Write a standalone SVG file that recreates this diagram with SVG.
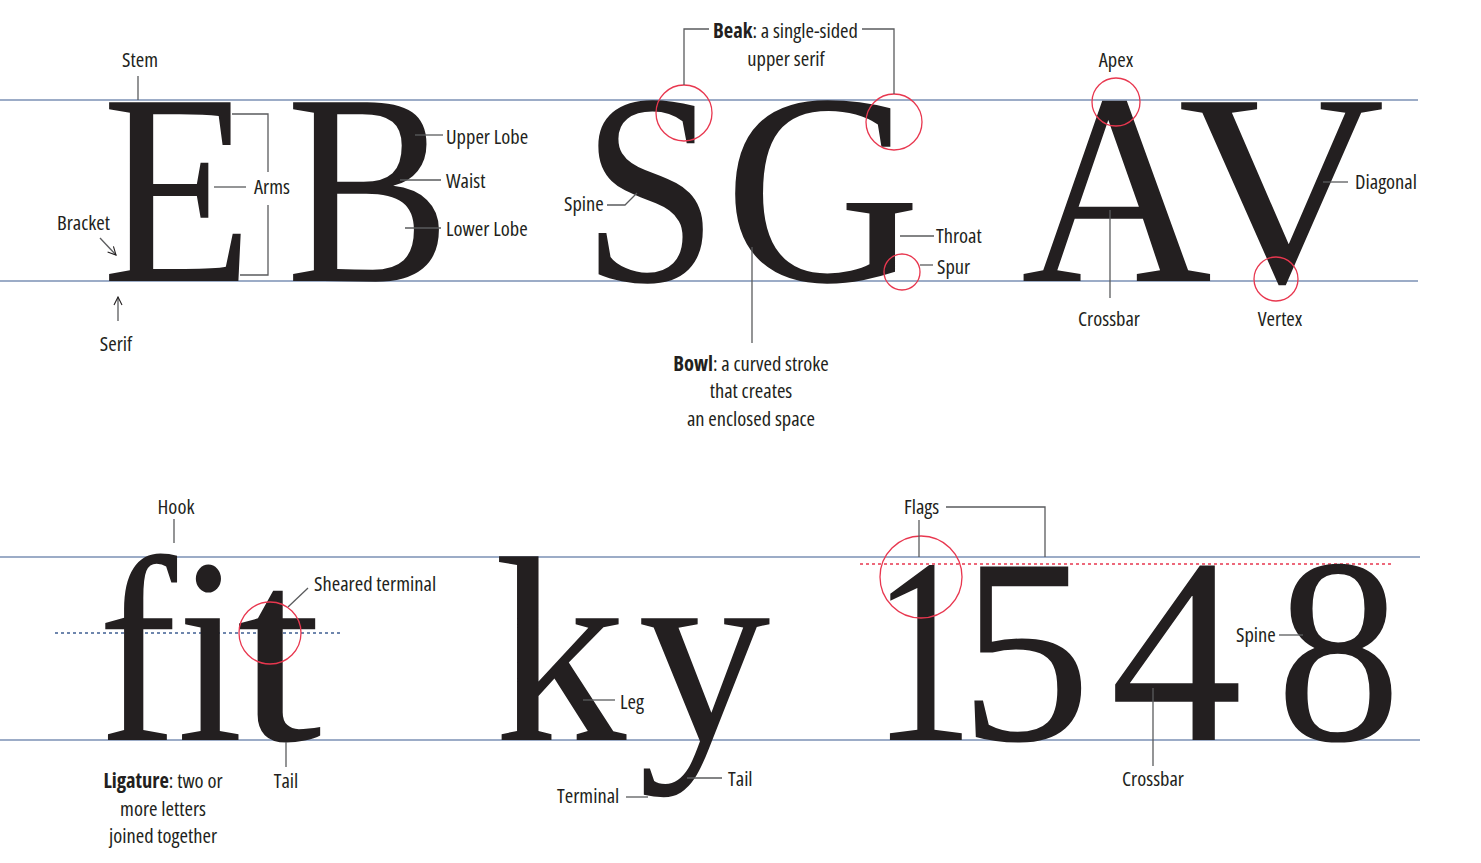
<svg xmlns="http://www.w3.org/2000/svg" width="1481" height="863" viewBox="0 0 1481 863">
<defs>
<style>
.guide{stroke:#7b91b4;stroke-width:1.4;fill:none}
.glyph{font-family:"Liberation Serif","Times New Roman",serif;fill:#231f20}
.top{font-size:273px}
.bot{font-size:265px}
.lbl{font-family:"Open Sans","Noto Sans",sans-serif;font-stretch:condensed;font-size:20.5px;fill:#231f20}
.mid{text-anchor:middle}
.b{font-weight:bold}
.lead{stroke:#5a5b5d;stroke-width:1.3;fill:none}
.ring{stroke:#e8374f;stroke-width:1.3;fill:none}
.dotblue{stroke:#3f5f92;stroke-width:1.3;stroke-dasharray:3 3;fill:none}
.dotred{stroke:#e8374f;stroke-width:1.3;stroke-dasharray:3 3;fill:none}
</style>
<marker id="open" viewBox="0 0 10 10" refX="9" refY="5" markerWidth="10" markerHeight="10" markerUnits="userSpaceOnUse" orient="auto">
<path d="M1,1 L9,5 L1,9" fill="none" stroke="#231f20" stroke-width="1.1"/>
</marker>
</defs>
<rect width="1481" height="863" fill="#ffffff"/>

<g id="guides">
<line class="guide" x1="0" y1="100" x2="1418" y2="100"/>
<line class="guide" x1="0" y1="281" x2="1418" y2="281"/>
<line class="guide" x1="0" y1="557" x2="1420" y2="557"/>
<line class="guide" x1="0" y1="740" x2="1420" y2="740"/>
<line class="dotblue" x1="55" y1="633" x2="342" y2="633"/>
<line class="dotred" x1="860" y1="564" x2="1392" y2="564"/>
</g>

<g id="letters">
<text class="glyph top" x="102" y="281" textLength="151" lengthAdjust="spacingAndGlyphs">E</text>
<text class="glyph top" x="286" y="281" textLength="165" lengthAdjust="spacingAndGlyphs">B</text>
<text class="glyph top" x="582" y="281" textLength="136" lengthAdjust="spacingAndGlyphs">S</text>
<text class="glyph top" x="724" y="281" textLength="197" lengthAdjust="spacingAndGlyphs">G</text>
<text class="glyph top" x="1021" y="281" textLength="191" lengthAdjust="spacingAndGlyphs">A</text>
<text class="glyph top" x="1178" y="281" textLength="207" lengthAdjust="spacingAndGlyphs">V</text>
<text class="glyph bot" x="98" y="740" textLength="145" lengthAdjust="spacingAndGlyphs">fi</text>
<text class="glyph bot" x="236" y="740" textLength="86" lengthAdjust="spacingAndGlyphs">t</text>
<text class="glyph bot" x="494" y="740">k</text>
<text class="glyph bot" x="638" y="740">y</text>
<text class="glyph bot" x="872" y="740" textLength="102" lengthAdjust="spacingAndGlyphs">1</text>
<text class="glyph bot" x="959" y="740">5</text>
<text class="glyph bot" x="1110" y="740">4</text>
<text class="glyph bot" x="1276" y="740" textLength="125" lengthAdjust="spacingAndGlyphs">8</text>
</g>

<g id="rings">
<circle class="ring" cx="684" cy="113" r="28"/>
<circle class="ring" cx="894" cy="122" r="28"/>
<circle class="ring" cx="902" cy="272" r="18"/>
<circle class="ring" cx="1116" cy="102" r="24"/>
<circle class="ring" cx="1276" cy="279" r="22"/>
<circle class="ring" cx="270" cy="633" r="31"/>
<circle class="ring" cx="921" cy="577" r="41"/>
</g>

<g id="connectors">
<line class="lead" x1="138" y1="76" x2="138" y2="100"/>
<polyline class="lead" points="232,114 268,114 268,172"/>
<polyline class="lead" points="240,275 268,275 268,205"/>
<line class="lead" x1="214" y1="187" x2="246" y2="187"/>
<line class="lead" x1="100" y1="238" x2="116" y2="255" marker-end="url(#open)" stroke="#231f20"/>
<line class="lead" x1="118" y1="321" x2="118" y2="297" marker-end="url(#open)" stroke="#231f20"/>
<line class="lead" x1="415" y1="135" x2="443" y2="135"/>
<line class="lead" x1="400" y1="180" x2="441" y2="180"/>
<line class="lead" x1="405" y1="228" x2="441" y2="228"/>
<polyline class="lead" points="709,29 684,29 684,85"/>
<polyline class="lead" points="862,29 894,29 894,94"/>
<polyline class="lead" points="607,205 625,205 637,193"/>
<line class="lead" x1="900" y1="236" x2="934" y2="236"/>
<line class="lead" x1="920" y1="265" x2="933" y2="265"/>
<line class="lead" x1="752" y1="247" x2="752" y2="343"/>
<line class="lead" x1="1110" y1="210" x2="1110" y2="298"/>
<line class="lead" x1="1323" y1="182" x2="1348" y2="182"/>
<line class="lead" x1="174" y1="519" x2="174" y2="543"/>
<line class="lead" x1="288" y1="607" x2="308" y2="588"/>
<line class="lead" x1="286" y1="742" x2="286" y2="767"/>
<line class="lead" x1="583" y1="700" x2="615" y2="700"/>
<line class="lead" x1="687" y1="778" x2="722" y2="778"/>
<line class="lead" x1="626" y1="797" x2="648" y2="797"/>
<polyline class="lead" points="946,507 1045,507 1045,557"/>
<line class="lead" x1="919" y1="520" x2="919" y2="557"/>
<line class="lead" x1="1279" y1="635" x2="1303" y2="635"/>
<line class="lead" x1="1153" y1="688" x2="1153" y2="766"/>
</g>

<g id="labels">
<text class="lbl mid" x="140" y="67">Stem</text>
<text class="lbl" x="254" y="194">Arms</text>
<text class="lbl" x="57" y="230">Bracket</text>
<text class="lbl mid" x="116" y="351">Serif</text>
<text class="lbl" x="446" y="144">Upper Lobe</text>
<text class="lbl" x="446" y="188">Waist</text>
<text class="lbl" x="446" y="236">Lower Lobe</text>
<text class="lbl" x="713" y="38"><tspan class="b">Beak</tspan>: a single-sided</text>
<text class="lbl mid" x="786" y="66">upper serif</text>
<text class="lbl" x="564" y="211">Spine</text>
<text class="lbl" x="936" y="243">Throat</text>
<text class="lbl" x="937" y="274">Spur</text>
<text class="lbl mid" x="751" y="371"><tspan class="b">Bowl</tspan>: a curved stroke</text>
<text class="lbl mid" x="751" y="398">that creates</text>
<text class="lbl mid" x="751" y="426">an enclosed space</text>
<text class="lbl mid" x="1116" y="67">Apex</text>
<text class="lbl mid" x="1109" y="326">Crossbar</text>
<text class="lbl mid" x="1280" y="326">Vertex</text>
<text class="lbl" x="1355" y="189">Diagonal</text>
<text class="lbl mid" x="176" y="514">Hook</text>
<text class="lbl" x="314" y="591">Sheared terminal</text>
<text class="lbl mid" x="286" y="788">Tail</text>
<text class="lbl mid" x="163" y="788"><tspan class="b">Ligature</tspan>: two or</text>
<text class="lbl mid" x="163" y="816">more letters</text>
<text class="lbl mid" x="163" y="843">joined together</text>
<text class="lbl" x="620" y="709">Leg</text>
<text class="lbl" x="728" y="786">Tail</text>
<text class="lbl" x="557" y="803">Terminal</text>
<text class="lbl" x="904" y="514">Flags</text>
<text class="lbl" x="1236" y="642">Spine</text>
<text class="lbl mid" x="1153" y="786">Crossbar</text>
</g>
</svg>
